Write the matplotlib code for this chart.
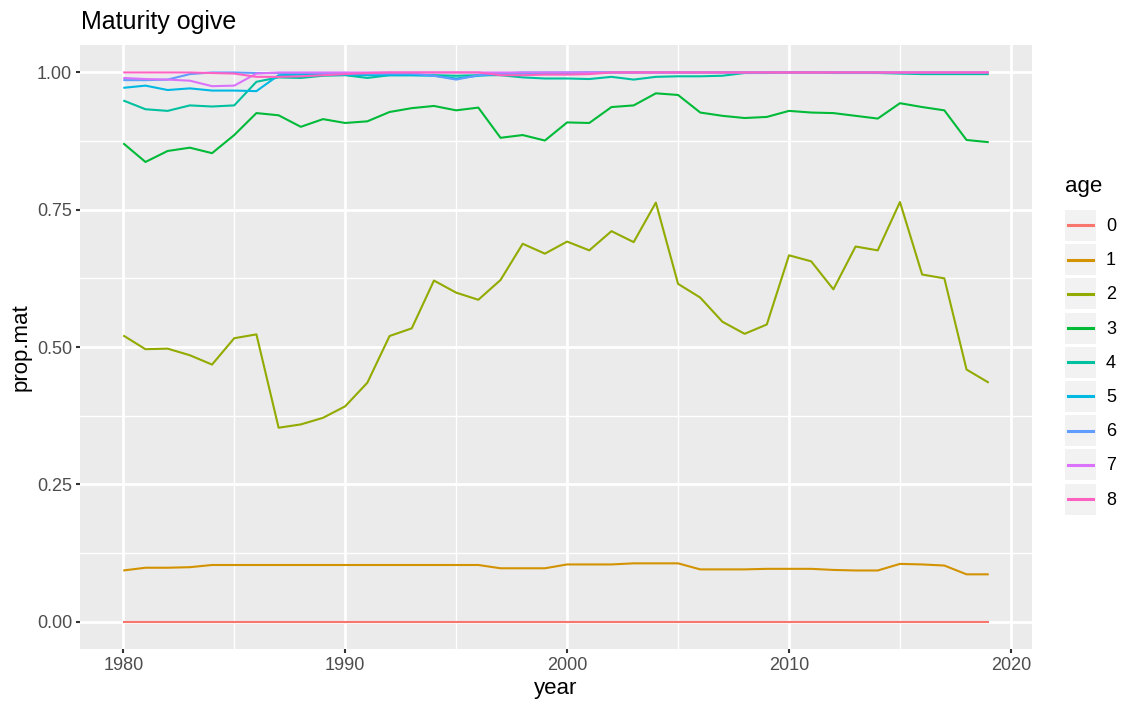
import matplotlib
matplotlib.use("Agg")
import matplotlib.pyplot as plt
from matplotlib.legend_handler import HandlerBase
from matplotlib.patches import Rectangle
from matplotlib.lines import Line2D

plt.rcParams['font.family'] = ['Liberation Sans', 'DejaVu Sans']

years = list(range(1980, 2020))
ages = ["0", "1", "2", "3", "4", "5", "6", "7", "8"]

age0 = [0.0] * 40
age1 = [0.093, 0.098, 0.098, 0.099,
        0.103, 0.103, 0.103, 0.103, 0.103, 0.103, 0.103, 0.103, 0.103, 0.103, 0.103, 0.103, 0.103,
        0.097, 0.097, 0.097, 0.104, 0.104, 0.104, 0.106, 0.106, 0.106, 0.095, 0.095, 0.095,
        0.096, 0.096, 0.096, 0.094, 0.093, 0.093, 0.105, 0.104, 0.102, 0.086, 0.086]
age2 = [0.521, 0.496, 0.497, 0.485, 0.468, 0.516, 0.523, 0.353, 0.359, 0.371,
        0.392, 0.435, 0.520, 0.534, 0.621, 0.599, 0.586, 0.622, 0.688, 0.670,
        0.692, 0.676, 0.711, 0.691, 0.763, 0.615, 0.590, 0.546, 0.524, 0.541,
        0.667, 0.656, 0.605, 0.683, 0.676, 0.764, 0.632, 0.625, 0.459, 0.435]
age3 = [0.871, 0.837, 0.857, 0.863, 0.853, 0.886, 0.926, 0.922, 0.901, 0.915,
        0.908, 0.911, 0.928, 0.935, 0.939, 0.931, 0.936, 0.881, 0.886, 0.876,
        0.909, 0.908, 0.937, 0.940, 0.962, 0.959, 0.927, 0.921, 0.917, 0.919,
        0.930, 0.927, 0.926, 0.921, 0.916, 0.944, 0.937, 0.931, 0.877, 0.873]
age4 = [0.949, 0.933, 0.930, 0.940, 0.938, 0.940, 0.983, 0.991, 0.990, 0.994,
        0.995, 0.990, 0.995, 0.995, 0.995, 0.994, 0.995, 0.995, 0.991, 0.989,
        0.989, 0.988, 0.992, 0.987, 0.992, 0.993, 0.993, 0.994, 0.999, 0.999,
        1.000, 1.000, 0.999, 0.999, 0.999, 0.998, 0.997, 0.997, 0.997, 0.997]
age5 = [0.972, 0.976, 0.968, 0.971, 0.967, 0.967, 0.966, 0.995, 0.996, 0.996,
        0.996, 0.995, 0.995, 0.995, 0.994, 0.989, 0.994, 0.997, 0.998, 0.999,
        0.999, 1.000, 1.000, 1.000, 1.000, 1.000, 1.000, 1.000, 1.000, 1.000,
        1.000, 1.000, 1.000, 1.000, 1.000, 0.999, 0.999, 0.999, 0.999, 0.999]
age6 = [0.986, 0.986, 0.987, 0.997, 1.000, 1.000, 0.999, 0.999, 0.999, 0.999,
        0.999, 0.998, 0.998, 0.998, 0.994, 0.987, 0.995, 0.998, 1.000, 1.000,
        1.000, 1.000, 1.000, 1.000, 1.000, 1.000, 1.000, 1.000, 1.000, 1.000,
        1.000, 1.000, 1.000, 1.000, 1.000, 1.000, 1.000, 1.000, 1.000, 1.000]
age7 = [0.990, 0.988, 0.987, 0.985, 0.975, 0.976, 0.998, 1.000, 1.000, 1.000,
        1.000, 1.000, 1.000, 1.000, 1.000, 1.000, 1.000, 1.000, 1.000, 1.000,
        1.000, 1.000, 1.000, 1.000, 1.000, 1.000, 1.000, 1.000, 1.000, 1.000,
        1.000, 1.000, 1.000, 1.000, 1.000, 1.000, 1.000, 1.000, 1.000, 1.000]
age8 = [1.000, 1.000, 1.000, 1.000, 0.999, 0.998, 0.992, 0.992, 0.993, 0.995,
        0.997, 0.999, 1.000, 1.000, 1.000, 1.000, 1.000, 0.995, 0.995, 0.996,
        0.996, 0.997, 1.000, 1.000, 1.000, 1.000, 1.000, 1.000, 1.000, 1.000,
        1.000, 1.000, 1.000, 1.000, 1.000, 1.000, 1.000, 1.000, 1.000, 1.000]

series = [age0, age1, age2, age3, age4, age5, age6, age7, age8]
colors = ["#F8766D", "#D39200", "#93AA00", "#00BA38", "#00C19F",
          "#00B9E3", "#619CFF", "#DB72FB", "#FF61C3"]

W, H = 1126, 707
fig = plt.figure(figsize=(W / 100, H / 100), dpi=100)
fig.patch.set_facecolor("white")
ax = fig.add_axes([80 / W, 1 - 649 / H, (1032 - 80) / W, (649 - 45) / H])
ax.set_facecolor("#EBEBEB")

handles = []
for lab, vals, c in zip(ages, series, colors):
    ln, = ax.plot(years, vals, color=c, lw=1.5, label=lab, solid_capstyle="butt", zorder=3)
    handles.append(ln)

ax.set_xlim(1978.05, 2020.95)
ax.set_ylim(-0.05, 1.05)
ax.set_xticks([1980, 1990, 2000, 2010, 2020])
ax.set_xticks([1985, 1995, 2005, 2015], minor=True)
ax.set_yticks([0.0, 0.25, 0.5, 0.75, 1.0])
ax.set_yticklabels(["0.00", "0.25", "0.50", "0.75", "1.00"])
ax.set_yticks([0.125, 0.375, 0.625, 0.875], minor=True)
ax.grid(which="major", color="white", lw=2.0, zorder=1)
ax.grid(which="minor", color="white", lw=1.0, zorder=1)
ax.set_axisbelow(True)
for s in ax.spines.values():
    s.set_visible(False)
ax.tick_params(which="major", length=3.2, width=1.5, color="#333333",
               labelcolor="#4D4D4D", labelsize=13, pad=2.5)
ax.tick_params(which="minor", length=0)
ax.set_xlabel("year", fontsize=16, color="black", labelpad=3)
ax.set_ylabel("prop.mat", fontsize=16, color="black", labelpad=4)

fig.text(81 / W, 1 - 29 / H, "Maturity ogive", fontsize=18, color="black",
         ha="left", va="baseline")


class KeyHandler(HandlerBase):
    def create_artists(self, legend, orig_handle, xdescent, ydescent,
                       width, height, fontsize, trans):
        r = Rectangle((-xdescent, -ydescent), width, height,
                      facecolor="#F2F2F2", edgecolor="none", transform=trans)
        y = -ydescent + height / 2
        l = Line2D([-xdescent + 0.1 * width, -xdescent + 0.9 * width], [y, y],
                   color=orig_handle.get_color(), lw=2.2, transform=trans)
        return [r, l]


leg = fig.legend(handles=handles, labels=ages, title="age",
                 handler_map={Line2D: KeyHandler()},
                 loc="lower left", bbox_to_anchor=(1065 / W, 1 - 514.5 / H),
                 frameon=False, fontsize=13, title_fontsize=16,
                 handlelength=1.72, handleheight=2.26, labelspacing=0.18,
                 handletextpad=0.55, borderpad=0, borderaxespad=0)
leg._legend_box.align = "left"
leg._legend_box.sep = 9.5

fig.savefig("out.png", dpi=100)
